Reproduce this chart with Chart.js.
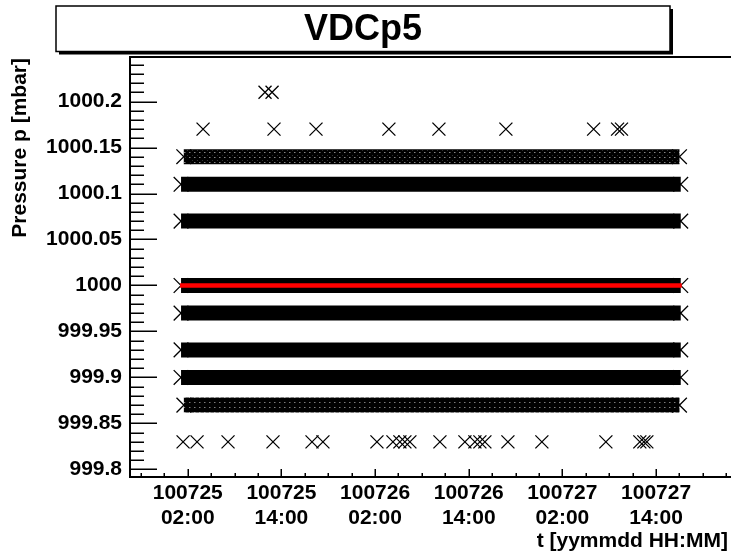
<!DOCTYPE html>
<html>
<head>
<meta charset="utf-8">
<script src="https://cdn.jsdelivr.net/npm/chart.js@4.4.1/dist/chart.umd.min.js"></script>
<style>
  html, body { margin: 0; padding: 0; background: #fff; }
  canvas { display: block; }
</style>
</head>
<body>
<canvas id="c" width="731" height="553"></canvas>
<script>
// x is in hours since 100725 00:00
const xMin = -5.4, xMax = 71.6;
const yMin = 999.7918, yMax = 1000.2484;

const xTicks = [2, 14, 26, 38, 50, 62];
const xTickLabels = [
    ['100725', '02:00'], ['100725', '14:00'], ['100726', '02:00'],
    ['100726', '14:00'], ['100727', '02:00'], ['100727', '14:00']
];
const yTicks = [999.8, 999.85, 999.9, 999.95, 1000, 1000.05, 1000.1, 1000.15, 1000.2];
const yTickLabels = ['999.8', '999.85', '999.9', '999.95', '1000', '1000.05', '1000.1', '1000.15', '1000.2'];

// levels that are read almost every sample: first and last reading time
const bandLevels = [1000.14, 1000.11, 1000.07, 1000.00, 999.97, 999.93, 999.90, 999.87];
const bandStart  = [1.49, 1.14, 1.14, 1.14, 1.14, 1.14, 1.14, 1.5];
const bandEnd    = [65.0, 65.16, 65.16, 65.16, 65.16, 65.16, 65.16, 65.0];

// isolated readings (time in hours)
const t1000_21 = [11.9, 12.8];
const t1000_17 = [3.96, 13.05, 18.43, 27.77, 34.18, 42.76, 54.0, 57.07, 57.57];
const t999_83 = [1.4, 3.19, 7.16, 12.92, 17.92, 19.32, 26.24, 28.29, 29.18, 29.82, 30.46,
                 34.31, 37.51, 38.79, 39.43, 40.07, 43.02, 47.37, 55.57, 59.92, 60.44, 60.82];

// red mean line
const refLevel = 1000.0;
const refStart = 1.01, refEnd = 65.29;

const FONT = '"Liberation Sans", Arial, Helvetica, sans-serif';
const texturedLevels = [1000.14, 999.87];

function hatch(step, width) {
    const c = document.createElement('canvas');
    c.width = step; c.height = step;
    const g = c.getContext('2d');
    g.strokeStyle = '#000';
    g.lineWidth = width;
    g.beginPath();
    for (let k = -1; k <= 1; k++) {
        g.moveTo(k * step, 0); g.lineTo(k * step + step, step);
        g.moveTo(k * step, step); g.lineTo(k * step + step, 0);
    }
    g.stroke();
    return g.createPattern(c, 'repeat');
}

const datasets = [];

// red line first so it is drawn on top
datasets.push({
    data: [{x: refStart, y: refLevel}, {x: refEnd, y: refLevel}],
    showLine: true, borderColor: '#ff0000', borderWidth: 4.5,
    borderCapStyle: 'butt', pointRadius: 0
});

const sparse = [[1000.21, t1000_21], [1000.17, t1000_17], [999.83, t999_83]];
sparse.forEach(([lv, ts]) => {
    datasets.push({
        data: ts.map(t => ({x: t, y: lv})),
        pointStyle: 'crossRot', pointRadius: 9.2, borderColor: '#000', borderWidth: 1.3
    });
});

bandLevels.forEach((lv, i) => {
    let color = '#000';
    if (lv === texturedLevels[0]) color = hatch(5, 2.7);
    if (lv === texturedLevels[1]) color = hatch(5, 3.0);
    datasets.push({
        data: [{x: bandStart[i], y: lv}, {x: bandEnd[i], y: lv}],
        showLine: true, borderColor: color, borderWidth: 15,
        borderCapStyle: 'butt', pointRadius: 0
    });
    datasets.push({
        data: [{x: bandStart[i], y: lv}, {x: bandEnd[i], y: lv}],
        pointStyle: 'crossRot', pointRadius: 10.4, borderColor: '#000', borderWidth: 1.3
    });
});

const frame = {
    id: 'frame',
    afterDraw(chart) {
        const ctx = chart.ctx, a = chart.chartArea;
        const xs = chart.scales.x, ys = chart.scales.y;
        ctx.save();
        ctx.strokeStyle = '#000';

        // top frame line
        ctx.lineWidth = 2;
        ctx.beginPath();
        ctx.moveTo(a.left, a.top); ctx.lineTo(a.right, a.top);
        ctx.stroke();

        // tick marks, drawn inside the frame
        ctx.lineWidth = 1.5;
        ctx.beginPath();
        for (let i = Math.ceil(ys.min * 100); i <= Math.floor(ys.max * 100); i++) {
            const py = Math.round(ys.getPixelForValue(i / 100)) + 0.25;
            const len = (i % 5 === 0) ? 27 : 14;
            ctx.moveTo(a.left, py); ctx.lineTo(a.left + len, py);
        }
        for (let h = 2 + 3 * Math.ceil((xs.min - 2) / 3); h <= xs.max; h += 3) {
            const px = Math.round(xs.getPixelForValue(h)) + 0.25;
            const len = (((h - 2) % 12 + 12) % 12 === 0) ? 8 : 4;
            ctx.moveTo(px, a.bottom); ctx.lineTo(px, a.bottom - len);
        }
        ctx.stroke();

        // title box with shadow
        ctx.fillStyle = '#000';
        ctx.fillRect(59, 9, 614, 45.5);
        ctx.fillStyle = '#fff';
        ctx.fillRect(56, 6, 614, 45.5);
        ctx.lineWidth = 1.5;
        ctx.strokeRect(56, 6, 614, 45.5);
        ctx.fillStyle = '#000';
        ctx.font = 'bold 36px ' + FONT;
        ctx.textAlign = 'center';
        ctx.textBaseline = 'alphabetic';
        ctx.fillText('VDCp5', 363, 40);

        // axis titles
        ctx.font = 'bold 21px ' + FONT;
        ctx.textAlign = 'right';
        ctx.fillText('t [yymmdd HH:MM]', 728, 547);
        ctx.translate(26, 58);
        ctx.rotate(-Math.PI / 2);
        ctx.fillText('Pressure p [mbar]', 0, 0);
        ctx.restore();
    }
};

const ctx = document.getElementById('c').getContext('2d');
const chart = new Chart(ctx, {
    type: 'scatter',
    data: { datasets: datasets },
    options: {
        responsive: false,
        animation: false,
        layout: { autoPadding: false, padding: { top: 57, right: 0, left: 0, bottom: 0 } },
        plugins: {
            legend: { display: false },
            title: { display: false },
            tooltip: { enabled: false }
        },
        scales: {
            x: {
                type: 'linear', min: xMin, max: xMax,
                grid: { display: false, drawTicks: false },
                border: { display: true, color: '#000', width: 2 },
                afterBuildTicks: s => { s.ticks = xTicks.map(v => ({ value: v })); },
                afterFit: s => { s.height = 76; s.paddingLeft = 0; s.paddingRight = 0; },
                ticks: {
                    autoSkip: false, maxRotation: 0, minRotation: 0, padding: 4,
                    color: '#000',
                    font: { family: FONT, size: 21, weight: 'bold', lineHeight: 1.19 },
                    callback: (v) => xTickLabels[xTicks.indexOf(v)]
                }
            },
            y: {
                type: 'linear', min: yMin, max: yMax,
                grid: { display: false, drawTicks: false },
                border: { display: true, color: '#000', width: 2 },
                afterBuildTicks: s => { s.ticks = yTicks.map(v => ({ value: v })); },
                afterFit: s => { s.width = 130; s.paddingTop = 0; s.paddingBottom = 0; },
                ticks: {
                    padding: 8, color: '#000',
                    font: { family: FONT, size: 21, weight: 'bold' },
                    callback: (v) => yTickLabels[yTicks.indexOf(v)]
                }
            }
        }
    },
    plugins: [frame]
});
</script>
</body>
</html>
